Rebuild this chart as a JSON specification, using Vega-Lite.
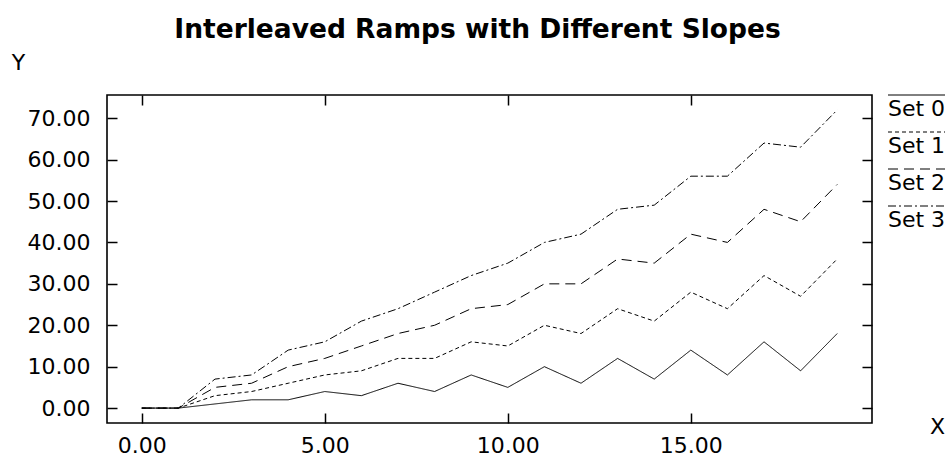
{
  "$schema": "https://vega.github.io/schema/vega-lite/v6.json",
  "width": 765,
  "height": 328,
  "autosize": {"type": "none"},
  "padding": {"left": 107, "top": 95, "right": 79, "bottom": 43},
  "background": "white",
  "title": {
    "text": "Interleaved Ramps with Different Slopes",
    "font": "DejaVu Sans",
    "fontSize": 26.5,
    "fontWeight": "bold",
    "color": "black",
    "anchor": "middle",
    "frame": "group",
    "dx": -12,
    "offset": 8
  },
  "config": {
    "view": {"stroke": "black", "strokeWidth": 1.6},
    "font": "DejaVu Sans",
    "axis": {
      "labelFont": "DejaVu Sans",
      "labelFontSize": 22,
      "labelColor": "black",
      "titleFont": "DejaVu Sans",
      "titleFontSize": 22,
      "titleFontWeight": "normal",
      "titleColor": "black",
      "domain": false,
      "grid": false,
      "tickColor": "black",
      "tickWidth": 1.5,
      "tickSize": -10
    }
  },
  "data": {
    "values": [
      {"x": 0, "y": 0, "set": "Set 0"}, {"x": 1, "y": 0, "set": "Set 0"}, {"x": 2, "y": 1, "set": "Set 0"}, {"x": 3, "y": 2, "set": "Set 0"}, {"x": 4, "y": 2, "set": "Set 0"},
      {"x": 5, "y": 4, "set": "Set 0"}, {"x": 6, "y": 3, "set": "Set 0"}, {"x": 7, "y": 6, "set": "Set 0"}, {"x": 8, "y": 4, "set": "Set 0"}, {"x": 9, "y": 8, "set": "Set 0"},
      {"x": 10, "y": 5, "set": "Set 0"}, {"x": 11, "y": 10, "set": "Set 0"}, {"x": 12, "y": 6, "set": "Set 0"}, {"x": 13, "y": 12, "set": "Set 0"}, {"x": 14, "y": 7, "set": "Set 0"},
      {"x": 15, "y": 14, "set": "Set 0"}, {"x": 16, "y": 8, "set": "Set 0"}, {"x": 17, "y": 16, "set": "Set 0"}, {"x": 18, "y": 9, "set": "Set 0"}, {"x": 19, "y": 18, "set": "Set 0"},
      {"x": 0, "y": 0, "set": "Set 1"}, {"x": 1, "y": 0, "set": "Set 1"}, {"x": 2, "y": 3, "set": "Set 1"}, {"x": 3, "y": 4, "set": "Set 1"}, {"x": 4, "y": 6, "set": "Set 1"},
      {"x": 5, "y": 8, "set": "Set 1"}, {"x": 6, "y": 9, "set": "Set 1"}, {"x": 7, "y": 12, "set": "Set 1"}, {"x": 8, "y": 12, "set": "Set 1"}, {"x": 9, "y": 16, "set": "Set 1"},
      {"x": 10, "y": 15, "set": "Set 1"}, {"x": 11, "y": 20, "set": "Set 1"}, {"x": 12, "y": 18, "set": "Set 1"}, {"x": 13, "y": 24, "set": "Set 1"}, {"x": 14, "y": 21, "set": "Set 1"},
      {"x": 15, "y": 28, "set": "Set 1"}, {"x": 16, "y": 24, "set": "Set 1"}, {"x": 17, "y": 32, "set": "Set 1"}, {"x": 18, "y": 27, "set": "Set 1"}, {"x": 19, "y": 36, "set": "Set 1"},
      {"x": 0, "y": 0, "set": "Set 2"}, {"x": 1, "y": 0, "set": "Set 2"}, {"x": 2, "y": 5, "set": "Set 2"}, {"x": 3, "y": 6, "set": "Set 2"}, {"x": 4, "y": 10, "set": "Set 2"},
      {"x": 5, "y": 12, "set": "Set 2"}, {"x": 6, "y": 15, "set": "Set 2"}, {"x": 7, "y": 18, "set": "Set 2"}, {"x": 8, "y": 20, "set": "Set 2"}, {"x": 9, "y": 24, "set": "Set 2"},
      {"x": 10, "y": 25, "set": "Set 2"}, {"x": 11, "y": 30, "set": "Set 2"}, {"x": 12, "y": 30, "set": "Set 2"}, {"x": 13, "y": 36, "set": "Set 2"}, {"x": 14, "y": 35, "set": "Set 2"},
      {"x": 15, "y": 42, "set": "Set 2"}, {"x": 16, "y": 40, "set": "Set 2"}, {"x": 17, "y": 48, "set": "Set 2"}, {"x": 18, "y": 45, "set": "Set 2"}, {"x": 19, "y": 54, "set": "Set 2"},
      {"x": 0, "y": 0, "set": "Set 3"}, {"x": 1, "y": 0, "set": "Set 3"}, {"x": 2, "y": 7, "set": "Set 3"}, {"x": 3, "y": 8, "set": "Set 3"}, {"x": 4, "y": 14, "set": "Set 3"},
      {"x": 5, "y": 16, "set": "Set 3"}, {"x": 6, "y": 21, "set": "Set 3"}, {"x": 7, "y": 24, "set": "Set 3"}, {"x": 8, "y": 28, "set": "Set 3"}, {"x": 9, "y": 32, "set": "Set 3"},
      {"x": 10, "y": 35, "set": "Set 3"}, {"x": 11, "y": 40, "set": "Set 3"}, {"x": 12, "y": 42, "set": "Set 3"}, {"x": 13, "y": 48, "set": "Set 3"}, {"x": 14, "y": 49, "set": "Set 3"},
      {"x": 15, "y": 56, "set": "Set 3"}, {"x": 16, "y": 56, "set": "Set 3"}, {"x": 17, "y": 64, "set": "Set 3"}, {"x": 18, "y": 63, "set": "Set 3"}, {"x": 19, "y": 72, "set": "Set 3"}
    ]
  },
  "resolve": {"axis": {"x": "independent", "y": "independent"}},
  "layer": [
    {
      "mark": {"type": "line", "color": "black", "strokeWidth": 1},
      "encoding": {
        "x": {
          "field": "x", "type": "quantitative",
          "scale": {"domain": [-0.95, 19.95], "nice": false, "zero": false},
          "axis": {
            "orient": "bottom", "values": [0, 5, 10, 15], "format": ".2f",
            "labelPadding": 22,
            "title": "X", "titleAngle": 0, "titleX": 830, "titleY": 3,
            "titleAlign": "center", "titleBaseline": "middle"
          }
        },
        "y": {
          "field": "y", "type": "quantitative",
          "scale": {"domain": [-3.6, 75.6], "nice": false, "zero": false},
          "axis": {
            "orient": "left", "values": [0, 10, 20, 30, 40, 50, 60, 70], "format": ".2f",
            "labelPadding": 27,
            "title": "Y", "titleAngle": 0, "titleX": -89, "titleY": -33,
            "titleAlign": "center", "titleBaseline": "middle"
          }
        },
        "strokeDash": {
          "field": "set", "type": "nominal",
          "scale": {
            "domain": ["Set 0", "Set 1", "Set 2", "Set 3"],
            "range": [[1, 0], [4, 3], [10, 6], [8, 3, 2, 3]]
          },
          "legend": {
            "title": null,
            "orient": "none",
            "legendX": 781,
            "legendY": 3,
            "padding": 0,
            "symbolType": "M-5.5,-7H23",
            "symbolSize": 16,
            "symbolStrokeColor": "black",
            "symbolStrokeWidth": 1,
            "labelOffset": -22,
            "labelFont": "DejaVu Sans",
            "labelFontSize": 22,
            "labelColor": "black",
            "rowPadding": 10
          }
        }
      }
    },
    {
      "mark": {"type": "point", "opacity": 0},
      "encoding": {
        "x": {
          "field": "x", "type": "quantitative",
          "scale": {"domain": [-0.95, 19.95], "nice": false, "zero": false},
          "axis": {"orient": "top", "values": [0, 5, 10, 15], "labels": false, "title": null}
        },
        "y": {
          "field": "y", "type": "quantitative",
          "scale": {"domain": [-3.6, 75.6], "nice": false, "zero": false},
          "axis": {"orient": "right", "values": [0, 10, 20, 30, 40, 50, 60, 70], "labels": false, "title": null}
        }
      }
    }
  ]
}
